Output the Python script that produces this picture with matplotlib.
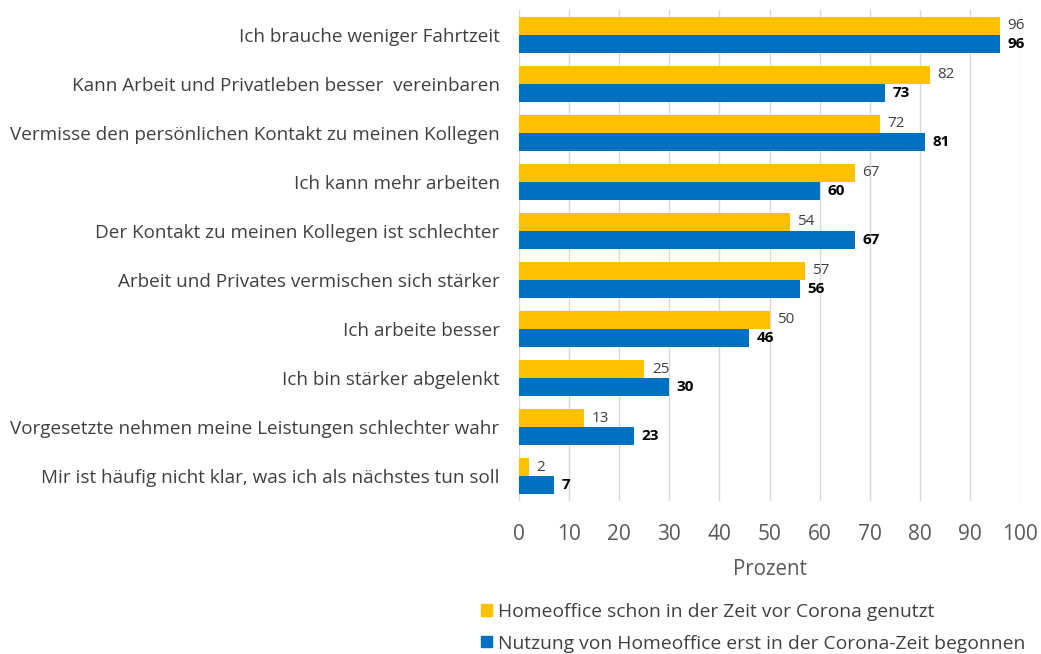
import matplotlib
matplotlib.use("Agg")
import matplotlib.pyplot as plt
from matplotlib.patches import Patch
import numpy as np

categories = [
    "Ich brauche weniger Fahrtzeit",
    "Kann Arbeit und Privatleben besser  vereinbaren",
    "Vermisse den persönlichen Kontakt zu meinen Kollegen",
    "Ich kann mehr arbeiten",
    "Der Kontakt zu meinen Kollegen ist schlechter",
    "Arbeit und Privates vermischen sich stärker",
    "Ich arbeite besser",
    "Ich bin stärker abgelenkt",
    "Vorgesetzte nehmen meine Leistungen schlechter wahr",
    "Mir ist häufig nicht klar, was ich als nächstes tun soll",
]
vor_corona = [96, 82, 72, 67, 54, 57, 50, 25, 13, 2]
seit_corona = [96, 73, 81, 60, 67, 56, 46, 30, 23, 7]
series_names = [
    "Homeoffice schon in der Zeit vor Corona genutzt",
    "Nutzung von Homeoffice erst in der Corona-Zeit begonnen",
]
xticks = list(range(0, 101, 10))

plt.rcParams['font.family'] = ['Open Sans', 'DejaVu Sans']
YEL = "#FFC000"
BLU = "#0070C0"

fig = plt.figure(figsize=(10.41, 6.54), dpi=100)
ax = fig.add_axes([0.4986, 0.2347, 0.4812, 0.7493])

y = np.arange(len(categories))
h = 0.367
ax.barh(y - h/2, vor_corona, height=h, color=YEL, zorder=3)
ax.barh(y + h/2, seit_corona, height=h, color=BLU, zorder=3)

for yi, v in zip(y, vor_corona):
    ax.text(v + 1.5, yi - h/2, str(v), va='center', ha='left', fontsize=11, color='#404040')
for yi, v in zip(y, seit_corona):
    ax.text(v + 1.5, yi + h/2, str(v), va='center', ha='left', fontsize=11, color='black', fontweight='bold')

ax.set_ylim(len(categories) - 0.5, -0.5)
ax.set_xlim(0, 100)
ax.set_yticks(y)
ax.set_yticklabels(categories, fontsize=13.55, color='#404040')
ax.set_xticks(xticks)
ax.set_xticklabels([str(t) for t in xticks], fontsize=15, color='#595959')
ax.tick_params(axis='both', length=0)
ax.tick_params(axis='y', pad=14)
ax.tick_params(axis='x', pad=17)
ax.grid(axis='x', color='#D9D9D9', linewidth=1, zorder=0)
for s in ax.spines.values():
    s.set_visible(False)
ax.set_xlabel("Prozent", fontsize=14.8, color='#595959', labelpad=10)

handles = [Patch(color=YEL), Patch(color=BLU)]
fig.legend(handles, series_names, loc='upper left', bbox_to_anchor=(0.462, 0.078),
           frameon=False, fontsize=13.9, labelcolor='#404040', handlelength=0.55, handleheight=0.55,
           handletextpad=0.35, labelspacing=0.7, borderpad=0, borderaxespad=0)

fig.savefig("out.png", dpi=100, facecolor='white')
